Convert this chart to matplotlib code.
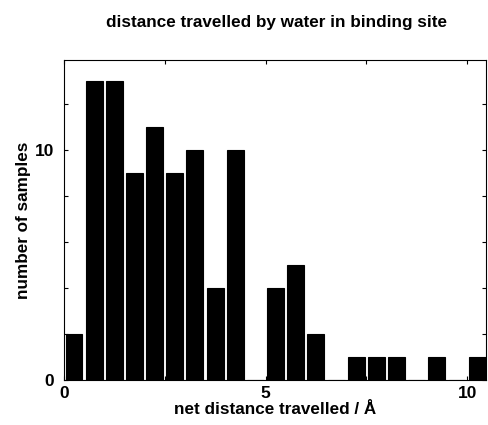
import matplotlib.pyplot as plt

plt.rcParams['font.family'] = ['Liberation Sans', 'DejaVu Sans']
plt.rcParams['font.weight'] = 'bold'

# histogram: bin centres (Angstrom) and counts
bin_centres = [0.25 + 0.5 * i for i in range(21)]
counts = [2, 13, 13, 9, 11, 9, 10, 4, 10, 0, 4, 5, 2, 0, 1, 1, 1, 0, 1, 0, 1]

fig = plt.figure(figsize=(4.88, 4.25), dpi=100)
ax = fig.add_axes([0.131, 0.106, 0.865, 0.753])

ax.bar(bin_centres, counts, width=0.42, color='black', edgecolor='black', linewidth=0.8)

ax.set_xlim(0, 10.47)
ax.set_ylim(0, 13.9)

ax.set_xticks([0, 2.5, 5, 7.5, 10])
ax.set_xticklabels(['0', '', '5', '', '10'])
ax.set_yticks([0, 2, 4, 6, 8, 10, 12])
ax.set_yticklabels(['0', '', '', '', '', '10', ''])
ax.tick_params(direction='in', length=3, width=0.8, top=True, right=True, labelsize=12.5)
ax.tick_params(axis='x', pad=4)
ax.tick_params(axis='y', pad=7)
for lab in ax.get_xticklabels() + ax.get_yticklabels():
    lab.set_fontweight('bold')
for s in ax.spines.values():
    s.set_linewidth(0.8)

ax.set_xlabel('net distance travelled / Å', fontsize=12.3, fontweight='bold', labelpad=1)
ax.set_ylabel('number of samples', fontsize=12.3, fontweight='bold', labelpad=3)
fig.text(0.567, 0.946, 'distance travelled by water in binding site', ha='center', va='center',
         fontsize=12.3, fontweight='bold')

fig.savefig('out.png', dpi=100)
